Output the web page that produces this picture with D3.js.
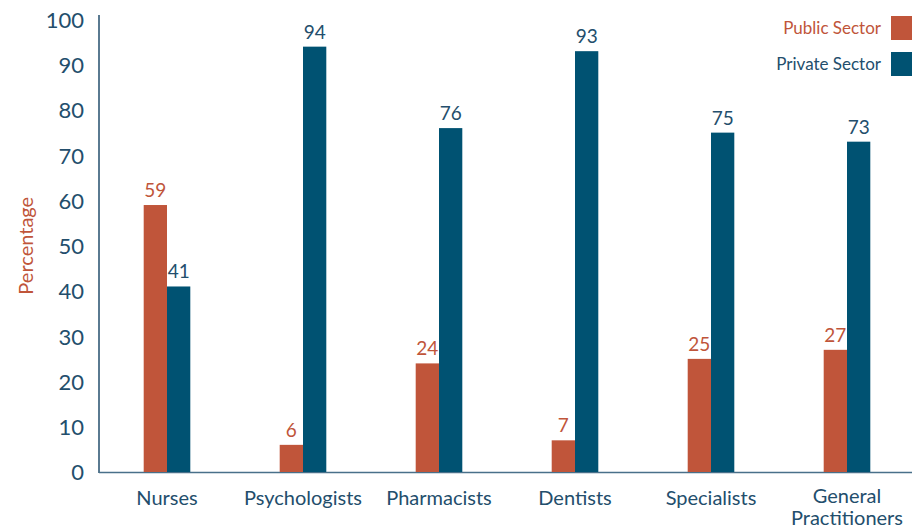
<!DOCTYPE html>
<html>
<head>
<meta charset="utf-8">
<script src="https://cdn.jsdelivr.net/npm/d3@7"></script>
<style>
  html, body { margin: 0; padding: 0; background: #fff; }
  svg { display: block; font-family: Lato, "Open Sans", sans-serif; }
</style>
</head>
<body>
<svg id="chart" width="912" height="530"></svg>
<script>
// Share of health workers by sector, per profession
const categories = ["Nurses", "Psychologists", "Pharmacists", "Dentists", "Specialists", "General Practitioners"];
const publicSector = [59, 6, 24, 7, 25, 27];
const privateSector = [41, 94, 76, 93, 75, 73];
const yTicks = [0, 10, 20, 30, 40, 50, 60, 70, 80, 90, 100];
const seriesNames = ["Public Sector", "Private Sector"];

const orange = "#C0553A";
const navy = "#005272";
const textNavy = "#234E6C";

const svg = d3.select("#chart");

const x = d3.scaleBand().domain(categories).range([99, 915]).paddingInner(0).paddingOuter(0);
const y = d3.scaleLinear().domain([0, 100]).range([472, 19.5]);
const barW = 23.3;

// Axis lines
svg.append("line").attr("x1", 99).attr("x2", 99).attr("y1", 15).attr("y2", 473)
  .attr("stroke", textNavy).attr("stroke-width", 1.5);
svg.append("line").attr("x1", 99).attr("x2", 912).attr("y1", 472.5).attr("y2", 472.5)
  .attr("stroke", "#49708A").attr("stroke-width", 1.5);

// Y tick labels
const yAxis = d3.axisLeft(y).tickValues(yTicks).tickSize(0).tickPadding(0);
const gy = svg.append("g").attr("transform", "translate(84,0)").call(yAxis);
gy.select(".domain").remove();
gy.selectAll("text").attr("fill", textNavy).style("font-size", "22px").attr("dy", "0.36em")
  .style("font-family", "Lato, sans-serif");

// Y title
svg.append("text").attr("transform", `translate(33,${y(50)}) rotate(-90)`)
  .attr("text-anchor", "middle").attr("fill", orange).style("font-size", "20px")
  .text("Percentage");

// Category labels
const catG = svg.append("g");
categories.forEach(c => {
  const cx = x(c) + x.bandwidth() / 2;
  const words = c === "General Practitioners" ? ["General", "Practitioners"] : [c];
  words.forEach((w, i) => {
    catG.append("text").attr("x", cx).attr("y", (words.length > 1 ? 503 : 505) + i * 22)
      .attr("text-anchor", "middle").attr("fill", textNavy).style("font-size", "20px").text(w);
  });
});

// Bars with value labels
const bars = svg.append("g");
categories.forEach((c, i) => {
  const cx = x(c) + x.bandwidth() / 2;
  const vals = [publicSector[i], privateSector[i]];
  vals.forEach((v, j) => {
    const bx = j === 0 ? cx - barW : cx;
    bars.append("rect").attr("x", bx).attr("y", y(v)).attr("width", barW)
      .attr("height", y(0) - y(v)).attr("fill", j === 0 ? orange : navy);
    bars.append("text").attr("x", bx + barW / 2).attr("y", y(v) - 8)
      .attr("text-anchor", "middle").attr("fill", j === 0 ? orange : textNavy)
      .style("font-size", "19px").text(v);
  });
});

// Legend
const legend = svg.append("g");
seriesNames.forEach((s, i) => {
  const yy = 16 + i * 36;
  legend.append("rect").attr("x", 891).attr("y", yy).attr("width", 24).attr("height", 24)
    .attr("fill", i === 0 ? orange : navy);
  legend.append("text").attr("x", 881).attr("y", yy + 12).attr("dy", "0.35em")
    .attr("text-anchor", "end").attr("fill", i === 0 ? orange : textNavy)
    .style("font-size", "17px").text(s);
});
</script>
</body>
</html>
